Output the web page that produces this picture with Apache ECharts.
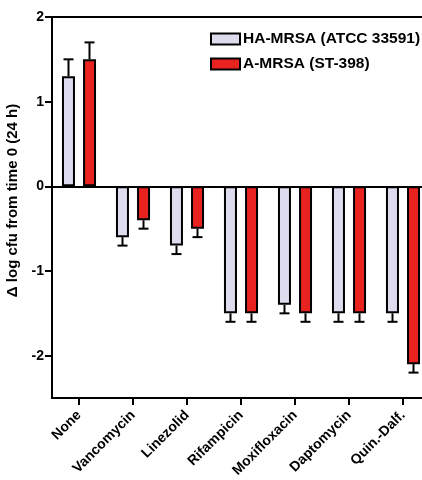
<!DOCTYPE html>
<html><head><meta charset="utf-8">
<script src="https://cdn.jsdelivr.net/npm/echarts@6/dist/echarts.min.js"></script>
<style>html,body{margin:0;padding:0;background:#fff}#c{width:422px;height:480px}</style>
</head><body><div id="c"></div>
<script>
const categories = ['None','Vancomycin','Linezolid','Rifampicin','Moxifloxacin','Daptomycin','Quin.-Dalf.'];
const haValues = [1.3, -0.6, -0.7, -1.5, -1.4, -1.5, -1.5];
const haErrors = [0.2, 0.1, 0.1, 0.1, 0.1, 0.1, 0.1];
const aValues = [1.5, -0.4, -0.5, -1.5, -1.5, -1.5, -2.1];
const aErrors = [0.2, 0.1, 0.1, 0.1, 0.1, 0.1, 0.1];
const yTicks = [-2, -1, 0, 1, 2];
const seriesNames = ['HA-MRSA (ATCC 33591)', 'A-MRSA (ST-398)'];

const font = 'Liberation Sans, Arial, sans-serif';
const BAR_W = 13, OFFSET = 10.5;

function errSeries(values, errors, off) {
  return {
    type: 'custom', silent: true, z: 1,
    data: values.map((v, i) => [i, v, errors[i]]),
    renderItem: function (params, api) {
      const i = api.value(0), v = api.value(1), e = api.value(2);
      const end = v >= 0 ? v + e : v - e;
      const p0 = api.coord([i, v]);
      const p1 = api.coord([i, end]);
      const x = p0[0] + off;
      return {
        type: 'group',
        children: [
          {type: 'line', shape: {x1: x, y1: p0[1], x2: x, y2: p1[1]}, style: {stroke: '#000', lineWidth: 2}},
          {type: 'line', shape: {x1: x - 5, y1: p1[1], x2: x + 5, y2: p1[1]}, style: {stroke: '#000', lineWidth: 2}}
        ]
      };
    }
  };
}

const chart = echarts.init(document.getElementById('c'));
chart.setOption({
  animation: false,
  grid: {left: 52, top: 17, width: 378, height: 381, containLabel: false, outerBoundsMode: 'none'},
  legend: {
    left: 205, top: 26, orient: 'vertical', itemWidth: 29, itemHeight: 11, itemGap: 9,
    icon: 'rect',
    data: seriesNames,
    textStyle: {fontFamily: font, fontWeight: 'bold', fontSize: 15.5, color: '#000', padding: [0,0,0,-2]}
  },
  xAxis: [{
    type: 'category', data: categories, position: 'bottom',
    axisLine: {onZero: false, lineStyle: {color: '#000', width: 2}},
    axisTick: {show: true, alignWithLabel: true, length: 7, lineStyle: {color: '#000', width: 2}},
    axisLabel: {rotate: 45, interval: 0, fontFamily: font, fontWeight: 'bold', fontSize: 14, color: '#000', margin: 15}
  }, {
    type: 'category', data: categories, position: 'top',
    axisLine: {show: true, onZero: false, lineStyle: {color: '#000', width: 2}},
    axisTick: {show: false}, axisLabel: {show: false}
  }],
  yAxis: {
    type: 'value', min: -2.5, max: 2,
    name: 'Δ log cfu from time 0 (24 h)', nameLocation: 'middle', nameGap: 22,
    nameTextStyle: {fontFamily: font, fontWeight: 'bold', fontSize: 15, color: '#000', padding: [0,0,0,14]},
    axisLine: {show: true, onZero: false, lineStyle: {color: '#000', width: 2}},
    axisTick: {show: true, length: 7, customValues: yTicks, lineStyle: {color: '#000', width: 2}},
    axisLabel: {customValues: yTicks, fontFamily: font, fontWeight: 'bold', fontSize: 14, color: '#000', margin: 8},
    splitLine: {show: false}
  },
  series: [
    {
      name: seriesNames[0], type: 'bar', data: haValues, barWidth: BAR_W, barGap: '62%', z: 2,
      itemStyle: {color: '#dcdcee', borderColor: '#000', borderWidth: 2},
      markLine: {silent: true, symbol: 'none', label: {show: false},
        lineStyle: {color: '#000', width: 2, type: 'solid'}, data: [{yAxis: 0}]}
    },
    {
      name: seriesNames[1], type: 'bar', data: aValues, barWidth: BAR_W, z: 2,
      itemStyle: {color: '#e8221f', borderColor: '#000', borderWidth: 2}
    },
    errSeries(haValues, haErrors, -OFFSET),
    errSeries(aValues, aErrors, OFFSET)
  ]
});
</script></body></html>
